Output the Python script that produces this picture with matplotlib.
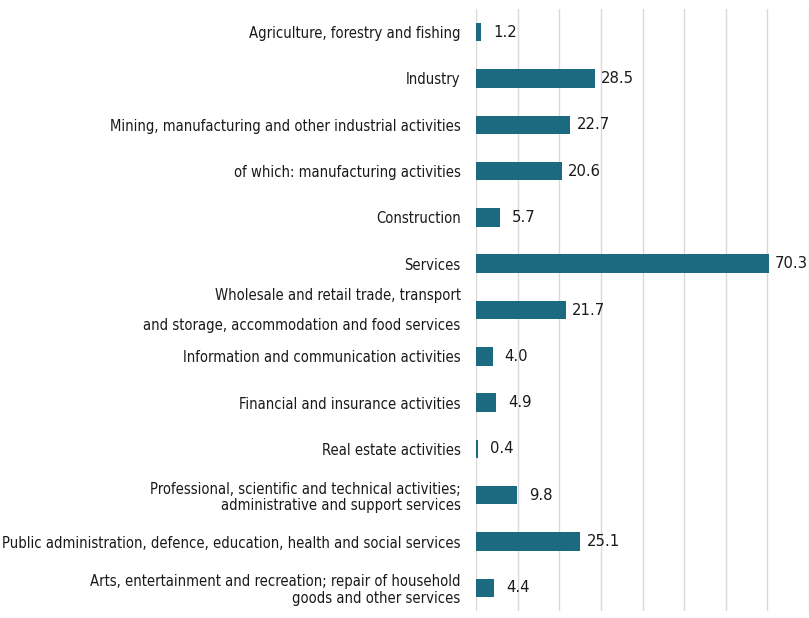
import matplotlib
matplotlib.use("Agg")
import matplotlib.pyplot as plt
from matplotlib import font_manager as fm

categories = [
    "Agriculture, forestry and fishing",
    "Industry",
    "Mining, manufacturing and other industrial activities",
    "of which: manufacturing activities",
    "Construction",
    "Services",
    "Wholesale and retail trade, transport\nand storage, accommodation and food services",
    "Information and communication activities",
    "Financial and insurance activities",
    "Real estate activities",
    "Professional, scientific and technical activities;\nadministrative and support services",
    "Public administration, defence, education, health and social services",
    "Arts, entertainment and recreation; repair of household\ngoods and other services",
]
values = [1.2, 28.5, 22.7, 20.6, 5.7, 70.3, 21.7, 4.0, 4.9, 0.4, 9.8, 25.1, 4.4]
value_labels = ["1.2", "28.5", "22.7", "20.6", "5.7", "70.3", "21.7", "4.0", "4.9", "0.4", "9.8", "25.1", "4.4"]
x_ticks = [0, 10, 20, 30, 40, 50, 60, 70, 80]

# pick a narrow font if available
names = {f.name for f in fm.fontManager.ttflist}
stretch = "normal"
if "Liberation Sans Narrow" in names:
    family = "Liberation Sans Narrow"
elif "DejaVu Sans Condensed" in names:
    family = "DejaVu Sans Condensed"
else:
    family = "DejaVu Sans"
    condensed = [f for f in fm.fontManager.ttflist if f.name == "DejaVu Sans" and "ondensed" in f.fname]
    if condensed:
        stretch = "condensed"

plt.rcParams["font.family"] = [family, "DejaVu Sans"]

fig = plt.figure(figsize=(8.09, 6.18), dpi=100)
ax = fig.add_axes([476 / 809, 1 - 611 / 618, 1 - 476 / 809, 602 / 618])

bar_color = "#1b6a80"
text_color = "#1a1a1a"
y = list(range(len(categories)))
ax.barh(y, values, height=0.4, color=bar_color, zorder=3)
ax.set_ylim(len(categories) - 0.5, -0.5)
ax.set_xlim(0, 80)
ax.set_xticks(x_ticks)
ax.xaxis.grid(True, color="#d9d9d9", linewidth=1.0, zorder=0)
ax.tick_params(axis="x", which="both", length=0, labelbottom=False)
ax.tick_params(axis="y", length=0, pad=11)
for s in ax.spines.values():
    s.set_visible(False)

ax.set_yticks(y)
ax.set_yticklabels(categories, fontsize=12, color=text_color, fontstretch=stretch, ha="right")

# fit the label font size so that the widest label spans ~455 px
fig.canvas.draw()
r = fig.canvas.get_renderer()
widest = max(t.get_window_extent(r).width for t in ax.get_yticklabels())
fs = 12 * 455 / widest
for t in ax.get_yticklabels():
    t.set_fontsize(fs)
    if t.get_text().startswith("Wholesale"):
        t.set_linespacing(2.25)
        t.set_va("center")
    else:
        t.set_linespacing(1.1)

for yi, v, lab in zip(y, values, value_labels):
    ax.annotate(lab, (v, yi), xytext=(6 if v > 10 else 12, 0), textcoords="offset pixels",
                va="center", ha="left", fontsize=fs * 1.12, color=text_color, fontstretch=stretch,
                annotation_clip=False)

fig.savefig("out.png", dpi=100)
